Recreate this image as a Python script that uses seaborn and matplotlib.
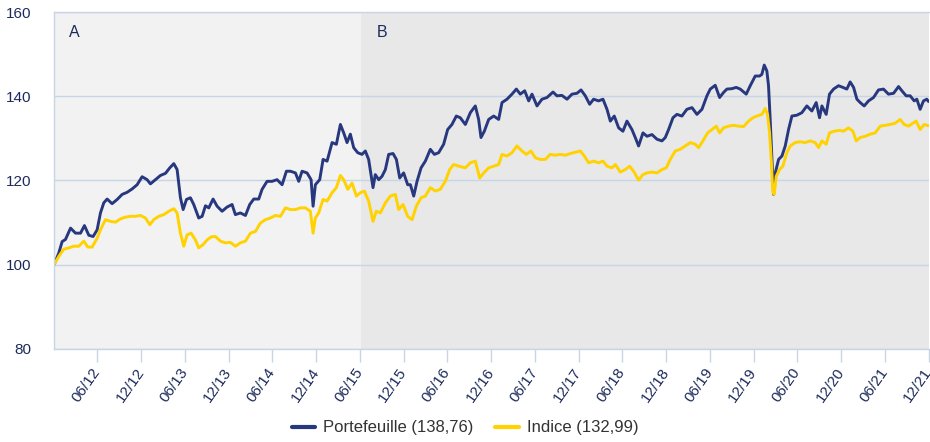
import numpy as np
import pandas as pd
import matplotlib
matplotlib.use('Agg')
import matplotlib.pyplot as plt
import seaborn as sns

# Périodes de gestion
launch = '2012-01-01'
period_b_start = '2015-07-06'
period_labels = ['A', 'B']

# Valeurs (années écoulées depuis le lancement, base 100)
port_years = [
    0.000, 0.055, 0.093, 0.131, 0.189, 0.246, 0.303, 0.348, 0.398, 0.447,
    0.493, 0.531, 0.569, 0.607, 0.664, 0.722, 0.779, 0.836, 0.893, 0.950,
    1.007, 1.064, 1.102, 1.159, 1.217, 1.274, 1.323, 1.369, 1.407, 1.445,
    1.476, 1.514, 1.559, 1.597, 1.654, 1.693, 1.731, 1.769, 1.818, 1.864,
    1.921, 1.978, 2.035, 2.073, 2.130, 2.188, 2.237, 2.283, 2.340, 2.378,
    2.435, 2.492, 2.549, 2.607, 2.656, 2.702, 2.759, 2.797, 2.835, 2.892,
    2.938, 2.961, 2.987, 3.037, 3.075, 3.121, 3.178, 3.227, 3.273, 3.311,
    3.349, 3.387, 3.425, 3.471, 3.520, 3.558, 3.596, 3.646, 3.672, 3.711,
    3.749, 3.787, 3.825, 3.875, 3.913, 3.951, 3.996, 4.042, 4.073, 4.111,
    4.149, 4.195, 4.244, 4.301, 4.347, 4.396, 4.453, 4.499, 4.548, 4.598,
    4.643,
    4.701, 4.758, 4.815, 4.853, 4.880, 4.918, 4.968, 5.025, 5.082, 5.120,
    5.177, 5.234, 5.284, 5.329, 5.379, 5.425, 5.463, 5.520, 5.577, 5.634,
    5.703, 5.748, 5.805, 5.863, 5.920, 5.977, 6.023, 6.072, 6.122, 6.167,
    6.224, 6.274, 6.320, 6.358, 6.403, 6.453, 6.502, 6.548, 6.605, 6.643,
    6.681, 6.731, 6.777, 6.834, 6.891, 6.948, 6.986, 7.024, 7.074, 7.119,
    7.176, 7.233, 7.291, 7.348, 7.405, 7.462, 7.500, 7.557, 7.607, 7.652,
    7.690, 7.747, 7.797, 7.843, 7.911, 7.957, 8.014, 8.064, 8.090, 8.117,
    8.147, 8.166, 8.185, 8.205, 8.224, 8.243, 8.281, 8.319, 8.357, 8.395,
    8.433, 8.490, 8.547, 8.604, 8.661, 8.711, 8.749, 8.776, 8.825, 8.863,
    8.909, 8.966, 9.016, 9.061, 9.099, 9.138, 9.176, 9.214, 9.259, 9.309,
    9.366, 9.423, 9.480, 9.537, 9.595, 9.652, 9.690, 9.739, 9.785, 9.831,
    9.861, 9.899, 9.937, 9.975, 9.994,
]
port_values = [
    100.0, 102.8, 105.5, 106.0, 108.7, 107.5, 107.5, 109.3, 107.0, 106.7,
    108.3, 112.3, 114.7, 115.6, 114.5, 115.5, 116.7, 117.2, 118.0, 119.0,
    120.9, 120.2, 119.2, 120.2, 121.2, 121.7, 123.0, 124.0, 122.6, 115.9,
    113.1, 115.5, 115.9, 114.3, 111.1, 111.5, 114.0, 113.5, 115.6, 113.9,
    112.7, 113.7, 114.3, 111.9, 112.3, 111.7, 114.3, 115.6, 115.6, 117.9,
    119.8, 119.8, 120.2, 119.0, 122.2, 122.2, 121.8, 119.8, 122.2, 121.8,
    120.2, 113.9, 119.0, 120.2, 125.0, 124.6, 129.0, 128.6, 133.3, 131.3,
    129.0, 131.0, 127.8, 126.6, 126.2, 127.0, 125.0, 118.3, 121.4, 120.2,
    121.0, 122.6, 126.2, 126.4, 125.0, 120.6, 121.8, 119.0, 119.0, 116.3,
    119.8, 123.0, 124.6, 127.4, 126.2, 126.6, 128.6, 132.1, 133.3, 135.3,
    134.9,
    133.3, 136.1, 137.7, 134.5, 130.2, 131.7, 134.5, 135.3, 134.5, 138.5,
    139.3, 140.5, 141.7, 140.5, 141.3, 138.9, 140.5, 137.7, 139.3, 139.7,
    141.0, 140.1, 140.2, 139.3, 140.5, 140.7, 141.5, 140.1, 138.1, 139.3,
    138.9, 139.3, 136.9, 134.1, 135.3, 132.5, 131.7, 134.1, 132.1, 130.2,
    128.2, 131.3, 130.5, 130.9, 129.8, 129.4, 130.2, 132.1, 134.9, 135.7,
    135.3, 136.9, 137.3, 135.7, 136.9, 140.1, 141.7, 142.6, 139.7, 140.9,
    141.7, 141.8, 142.1, 141.7, 140.5, 142.5, 144.8, 144.8, 145.2, 147.4,
    146.0, 142.5, 134.5, 125.0, 116.7, 121.8, 125.0, 125.8, 128.2, 132.1,
    135.3, 135.5, 136.1, 137.7, 136.5, 138.5, 134.9, 137.7, 135.7, 140.5,
    141.7, 142.5, 142.1, 141.7, 143.4, 142.1, 139.3, 138.5, 137.7, 138.9,
    139.7, 141.5, 141.7, 140.5, 140.7, 142.3, 141.3, 140.1, 140.1, 138.9,
    139.3, 136.9, 138.9, 139.3, 138.76,
]
index_years = [
    0.000, 0.055, 0.112, 0.170, 0.227, 0.284, 0.341, 0.387, 0.436, 0.493,
    0.531, 0.588, 0.645, 0.703, 0.760, 0.817, 0.874, 0.931, 0.988, 1.045,
    1.095, 1.140, 1.197, 1.255, 1.312, 1.369, 1.407, 1.445, 1.483, 1.521,
    1.567, 1.616, 1.654, 1.704, 1.750, 1.795, 1.845, 1.902, 1.959, 2.016,
    2.073, 2.130, 2.188, 2.245, 2.302, 2.359, 2.416, 2.473, 2.530, 2.588,
    2.645, 2.702, 2.759, 2.816, 2.873, 2.930, 2.961, 2.987, 3.025, 3.075,
    3.121, 3.178, 3.227, 3.273, 3.311, 3.357, 3.406, 3.456, 3.501, 3.547,
    3.596, 3.646, 3.684, 3.730, 3.787, 3.844, 3.901, 3.939, 3.989, 4.042,
    4.092, 4.141, 4.195, 4.244, 4.301, 4.358, 4.415, 4.472, 4.522, 4.567,
    4.625,
    4.701, 4.758, 4.815, 4.865, 4.911, 4.968, 5.025, 5.082, 5.120, 5.177,
    5.234, 5.291, 5.349, 5.398, 5.451, 5.501, 5.558, 5.615, 5.672, 5.729,
    5.786, 5.844, 5.901, 5.958, 6.015, 6.061, 6.110, 6.167, 6.224, 6.274,
    6.320, 6.377, 6.415, 6.472, 6.529, 6.578, 6.624, 6.681, 6.731, 6.777,
    6.834, 6.891, 6.948, 6.997, 7.043, 7.100, 7.157, 7.214, 7.272, 7.329,
    7.367, 7.416, 7.470, 7.519, 7.569, 7.607, 7.652, 7.709, 7.767, 7.824,
    7.881, 7.938, 7.988, 8.033, 8.090, 8.128, 8.155, 8.178, 8.197, 8.216,
    8.231, 8.254, 8.292, 8.330, 8.376, 8.414, 8.471, 8.528, 8.585, 8.642,
    8.700, 8.738, 8.776, 8.825, 8.863, 8.917, 8.978, 9.023, 9.080, 9.130,
    9.168, 9.214, 9.271, 9.328, 9.385, 9.442, 9.499, 9.556, 9.613, 9.671,
    9.716, 9.766, 9.815, 9.853, 9.899, 9.945, 9.994,
]
index_values = [
    100.0, 102.0, 103.7, 104.0, 104.4, 104.4, 105.6, 104.2, 104.2, 106.3,
    108.3, 110.7, 110.3, 110.1, 110.9, 111.3, 111.5, 111.5, 111.7, 111.1,
    109.5, 110.7, 111.5, 111.9, 112.7, 113.3, 112.3, 107.5, 104.4, 107.1,
    107.5, 105.9, 104.0, 104.8, 105.9, 106.6, 106.7, 105.6, 105.2, 105.3,
    104.4, 105.2, 105.6, 107.5, 107.9, 109.9, 110.7, 111.1, 111.7, 111.5,
    113.5, 113.1, 113.1, 113.5, 113.5, 112.7, 107.5, 111.1, 112.3, 115.5,
    115.1, 117.1, 118.3, 121.2, 120.2, 117.9, 119.4, 116.3, 117.1, 117.5,
    115.1, 110.3, 112.7, 112.3, 114.7, 116.3, 116.7, 113.1, 114.3, 111.5,
    110.7, 113.9, 115.9, 116.3, 118.3, 117.5, 117.9, 119.8, 122.6, 123.8,
    123.4,
    123.0, 124.2, 124.6, 120.6, 121.8, 123.0, 123.4, 123.8, 126.2, 125.8,
    126.6, 128.2, 127.0, 126.2, 127.0, 125.4, 125.0, 125.0, 126.2, 126.0,
    126.2, 126.0, 126.4, 126.7, 127.0, 125.8, 124.2, 124.6, 124.2, 124.6,
    123.4, 123.0, 123.8, 122.0, 122.6, 123.4, 122.2, 120.1, 121.4, 121.8,
    122.0, 121.8, 122.6, 123.0, 125.0, 127.0, 127.4, 128.2, 129.0, 128.6,
    127.8, 129.4, 131.3, 132.1, 132.9, 131.3, 132.5, 132.9, 133.1, 132.9,
    132.8, 134.1, 134.9, 135.3, 135.7, 137.1, 135.7, 131.3, 125.0, 117.1,
    116.7, 121.0, 122.6, 123.4, 126.6, 128.2, 129.0, 129.2, 129.0, 129.4,
    129.0, 127.8, 129.4, 128.6, 131.3, 131.7, 131.9, 131.7, 132.5, 131.7,
    129.4, 130.2, 130.5, 131.0, 131.3, 132.9, 133.1, 133.3, 133.6, 134.5,
    133.3, 132.9, 133.6, 134.1, 132.1, 133.3, 132.99,
]
series_names = ['Portefeuille (138,76)', 'Indice (132,99)']
tick_labels = ['06/12', '12/12', '06/13', '12/13', '06/14', '12/14', '06/15',
               '12/15', '06/16', '12/16', '06/17', '12/17', '06/18', '12/18',
               '06/19', '12/19', '06/20', '12/20', '06/21', '12/21']
y_ticks = [80, 100, 120, 140, 160]

navy = '#28387f'
yellow = '#ffd200'
text_col = '#1c2b5c'
line_col = '#c8d5e6'


def to_dates(years):
    return pd.Timestamp(launch) + pd.to_timedelta(np.array(years) * 365.25, unit='D')


df = pd.concat([
    pd.DataFrame({'date': to_dates(port_years), 'valeur': port_values, 'serie': series_names[0]}),
    pd.DataFrame({'date': to_dates(index_years), 'valeur': index_values, 'serie': series_names[1]}),
], ignore_index=True)

sns.set_style('white')
plt.rcParams['font.family'] = ['Liberation Sans', 'DejaVu Sans']

fig = plt.figure(figsize=(9.3, 4.42), dpi=100)
ax = fig.add_axes([54 / 930, 1 - 349 / 442, 875 / 930, 337 / 442])

start = pd.Timestamp(launch)
end = to_dates([10.0])[0]
b_start = pd.Timestamp(period_b_start)

# Fond des deux périodes
ax.set_facecolor('#f2f2f2')
ax.axvspan(b_start, end, color='#e8e8e8', lw=0, zorder=0.1)

sns.lineplot(data=df, x='date', y='valeur', hue='serie', palette=[navy, yellow],
             linewidth=2.1, estimator=None, sort=False, ax=ax)

ax.set_xlim(start, end)
ax.set_ylim(80, 160)
ax.set_yticks(y_ticks)
ax.yaxis.grid(True, color=line_col, lw=1)
ax.xaxis.grid(False)
ax.set_axisbelow(True)
ax.set_xlabel('')
ax.set_ylabel('')

tick_dates = [pd.to_datetime(l, format='%m/%y') + pd.offsets.MonthEnd(0) for l in tick_labels]
ax.set_xticks(tick_dates)
ax.set_xticklabels(tick_labels, rotation=55, ha='right', va='center', rotation_mode='anchor')
ax.tick_params(axis='x', length=9.5, width=1, color=line_col, labelcolor=text_col,
               labelsize=11, pad=5, bottom=True)
ax.tick_params(axis='y', length=0, labelcolor=text_col, labelsize=11, pad=16)

for side in ['left', 'top', 'bottom']:
    ax.spines[side].set_color(line_col)
    ax.spines[side].set_linewidth(1)
ax.spines['right'].set_visible(False)

# Libellés des périodes
ax.annotate(period_labels[0], xy=(start, 160), xytext=(14.5, -20.5), textcoords='offset pixels',
            ha='left', va='center', fontsize=11.5, color=text_col)
ax.annotate(period_labels[1], xy=(b_start, 160), xytext=(16, -20.5), textcoords='offset pixels',
            ha='left', va='center', fontsize=11.5, color=text_col)

sns.move_legend(ax, 'center', bbox_to_anchor=(0.5, 0.032), bbox_transform=fig.transFigure,
                ncol=2, frameon=False, title=None, fontsize=12, handlelength=1.4,
                handletextpad=0.5, columnspacing=1.3, labelcolor='#333333')
for h in ax.get_legend().get_lines():
    h.set_linewidth(3)

fig.savefig('out.png', dpi=100)
